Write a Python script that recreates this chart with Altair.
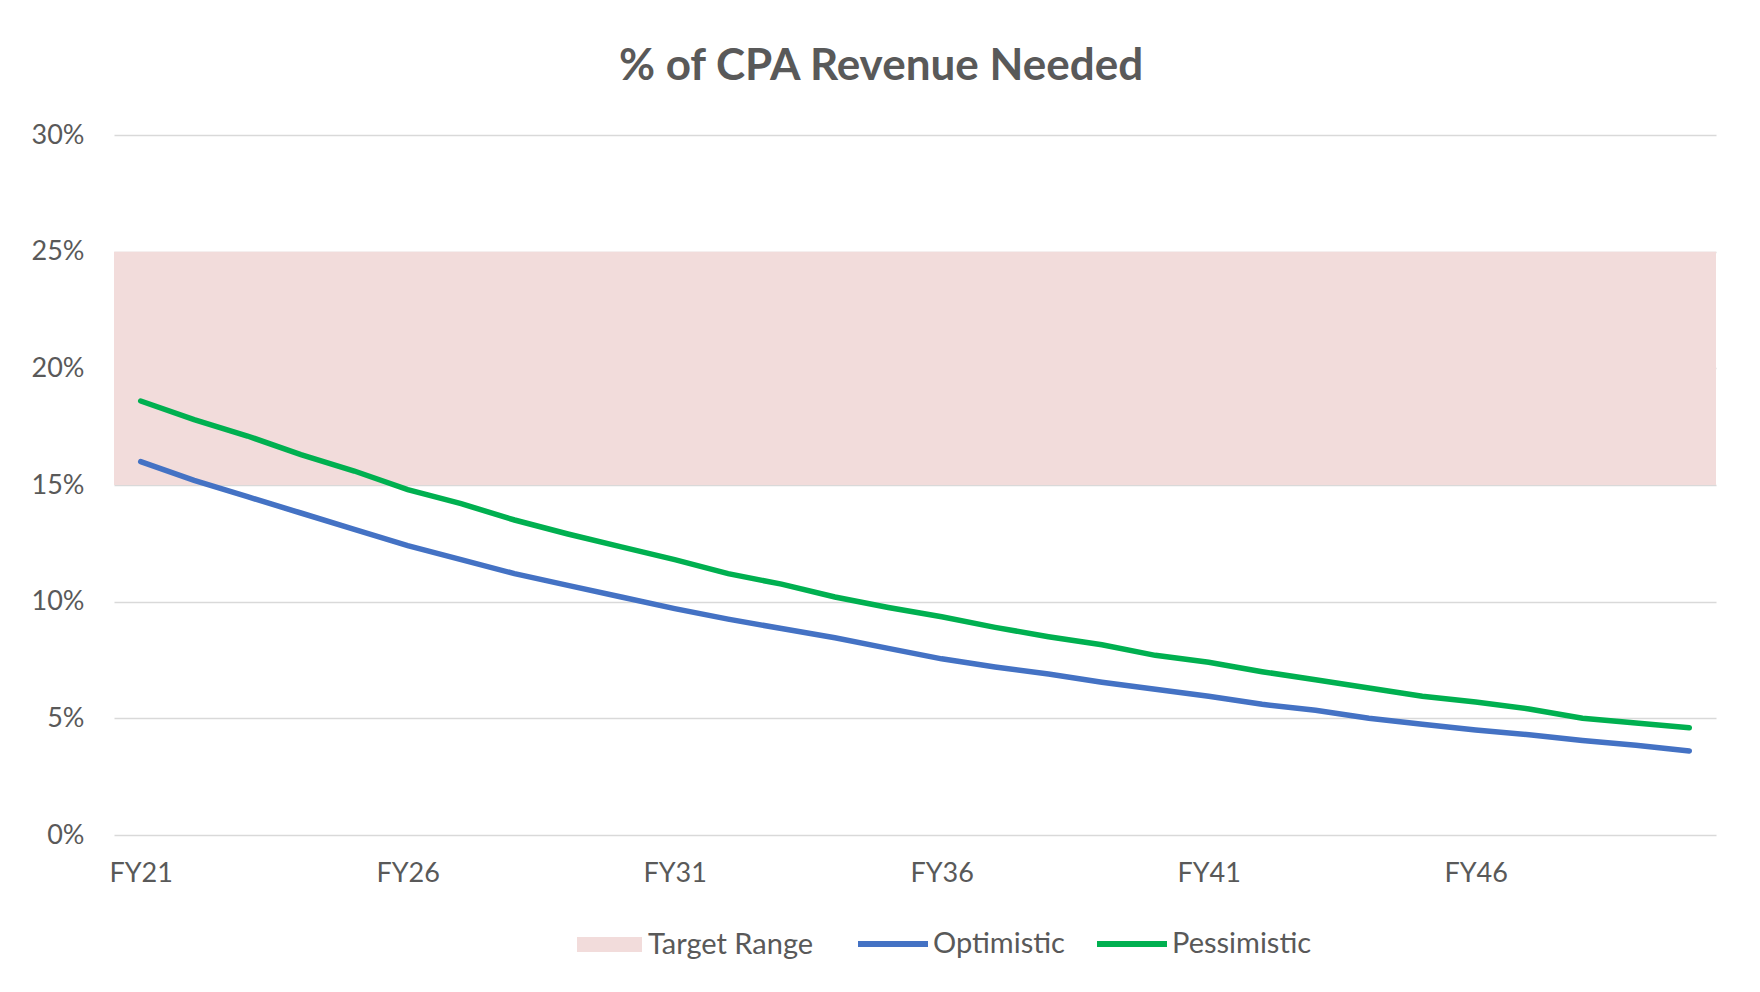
import altair as alt
import pandas as pd

years = ["FY21", "FY22", "FY23", "FY24", "FY25", "FY26", "FY27", "FY28", "FY29", "FY30",
         "FY31", "FY32", "FY33", "FY34", "FY35", "FY36", "FY37", "FY38", "FY39", "FY40",
         "FY41", "FY42", "FY43", "FY44", "FY45", "FY46", "FY47", "FY48", "FY49", "FY50"]

optimistic = [0.160, 0.152, 0.145, 0.138, 0.131, 0.124, 0.118, 0.112, 0.107, 0.102,
              0.097, 0.0925, 0.0885, 0.0845, 0.080, 0.0755, 0.072, 0.069, 0.0655, 0.0625,
              0.0595, 0.056, 0.0535, 0.050, 0.0475, 0.045, 0.043, 0.0405, 0.0385, 0.036]

pessimistic = [0.186, 0.178, 0.171, 0.163, 0.156, 0.148, 0.142, 0.135, 0.129, 0.1235,
               0.118, 0.112, 0.1075, 0.102, 0.0975, 0.0935, 0.089, 0.085, 0.0815, 0.077,
               0.074, 0.070, 0.0665, 0.063, 0.0595, 0.057, 0.054, 0.050, 0.048, 0.046]

target_low = [0.15]
target_high = [0.25]
target_label = ["Target Range"]

series_names = ["Optimistic", "Pessimistic"]
series_colors = ["#4472C4", "#00B050"]
band_color = "#F2DCDB"

y_ticks = [0.0, 0.05, 0.10, 0.15, 0.20, 0.25, 0.30]
x_ticks = ["FY21", "FY26", "FY31", "FY36", "FY41", "FY46"]

FONT = "Lato"
TEXT = "#595959"

lines_df = pd.DataFrame({
    "year": years * 2,
    "value": optimistic + pessimistic,
    "series": ["Optimistic"] * len(years) + ["Pessimistic"] * len(years),
})
band_df = pd.DataFrame({"lo": target_low, "hi": target_high, "label": target_label})

y_scale = alt.Scale(domain=[0, 0.30], nice=False, zero=True)

band = alt.Chart(band_df).mark_rect(opacity=1).encode(
    y=alt.Y("lo:Q", scale=y_scale,
            axis=alt.Axis(format=".0%", values=y_ticks, title=None)),
    y2="hi:Q",
    fill=alt.Fill("label:N",
                  scale=alt.Scale(domain=target_label, range=[band_color]),
                  legend=alt.Legend(title=None, orient="none", legendX=463, legendY=777,
                                    symbolType="M-1,-0.23H1V0.23H-1Z", symbolSize=4225,
                                    symbolStrokeWidth=0, labelOffset=6, labelLimit=400,
                                    labelFont=FONT, labelFontSize=29, labelColor=TEXT)),
)

lines = alt.Chart(lines_df).mark_line(strokeWidth=5.5, strokeCap="round").encode(
    x=alt.X("year:N", sort=years, title=None,
            axis=alt.Axis(values=x_ticks, labelAngle=0, ticks=False, domain=False,
                          labelPadding=25)),
    y=alt.Y("value:Q", scale=y_scale),
    color=alt.Color("series:N",
                    scale=alt.Scale(domain=series_names, range=series_colors),
                    legend=alt.Legend(title=None, orient="none", legendX=741, legendY=771,
                                      direction="horizontal", symbolType="stroke",
                                      symbolSize=4900, symbolStrokeWidth=6,
                                      labelOffset=2, columnPadding=20, labelLimit=400,
                                      labelFont=FONT, labelFontSize=29, labelColor=TEXT)),
)

chart = alt.layer(band, lines).properties(
    width=1602,
    height=700,
    background="white",
    title=alt.TitleParams("% of CPA Revenue Needed", font=FONT, fontSize=44,
                          fontWeight="bold", color=TEXT, anchor="middle", dx=-34,
                          offset=32),
    autosize=alt.AutoSizeParams(type="none"),
    padding={"left": 106, "top": 127, "right": 36, "bottom": 140},
).configure_view(stroke=None).configure_axis(
    labelFont=FONT, labelFontSize=27, labelColor=TEXT,
    gridColor="#D9D9D9", gridWidth=1.5,
).configure_axisY(
    domain=False, ticks=False, labelPadding=30,
).configure_axisX(
    grid=False,
)

chart.save("out.html", embed_options={"renderer": "svg", "actions": False})
